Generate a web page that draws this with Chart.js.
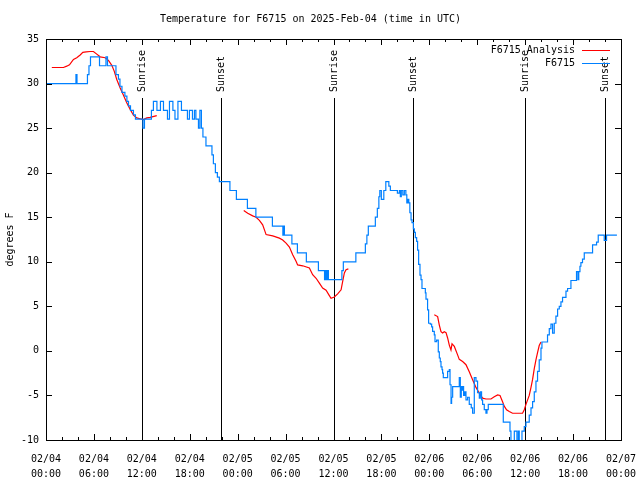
<!DOCTYPE html>
<html>
<head>
<meta charset="utf-8">
<title>F6715 temperature</title>
<script src="https://cdn.jsdelivr.net/npm/chart.js@4/dist/chart.umd.min.js"></script>
<style>
  html, body { margin: 0; padding: 0; background: #fff; }
  canvas { display: block; }
</style>
</head>
<body>
<canvas id="tempChart" width="640" height="480"></canvas>
<script>
// hours after 2025-02-04 00:00 UTC
const obsHours = [0, 3.75, 3.88, 5.19, 5.38, 5.57, 6.70, 7.51, 7.70, 8.76,
  9.07, 9.26, 9.51, 9.88, 10.13, 10.33, 10.58, 10.95, 11.20, 12.14,
  12.33, 13.20, 13.45, 13.89, 14.33, 14.71, 15.21, 15.46, 15.89, 16.15,
  16.52, 16.96, 17.71, 17.96, 18.34, 18.59, 18.77, 19.09, 19.27, 19.46,
  19.65, 20.03, 20.78, 20.96, 21.21, 21.46, 21.71, 23.03, 23.84, 25.22,
  26.28, 28.35, 29.66, 29.75, 29.85, 30.79, 31.48, 32.60, 34.11, 34.88,
  34.98, 35.11, 35.21, 35.36, 37.05, 37.23, 38.80, 39.99, 40.18, 40.36,
  41.24, 41.49, 41.68, 41.80, 41.99, 42.30, 42.55, 42.93, 43.12, 44.00,
  44.25, 44.37, 44.49, 44.68, 44.87, 45.06, 45.18, 45.28, 45.43, 45.56,
  45.71, 45.83, 46.00, 46.12, 46.25, 46.41, 46.53, 46.66, 46.83, 46.96,
  47.08, 47.50, 47.58, 47.78, 47.91, 48.12, 48.29, 48.41, 48.62, 48.71,
  48.91, 49.12, 49.25, 49.37, 49.46, 49.59, 49.66, 49.75, 50.29, 50.50,
  50.59, 50.72, 50.79, 50.92, 51.75, 51.88, 52.00, 52.09, 52.19, 52.29,
  52.44, 52.59, 52.79, 53.00, 53.25, 53.42, 53.63, 53.84, 54.04, 54.26,
  54.38, 54.54, 54.67, 54.88, 55.09, 55.22, 55.38, 57.26, 58.10, 58.22,
  58.64, 58.97, 59.14, 59.26, 59.60, 59.89, 60.10, 60.51, 60.73, 60.93,
  61.14, 61.35, 61.55, 61.76, 61.98, 62.10, 62.80, 63.02, 63.23, 63.43,
  63.64, 63.85, 64.06, 64.27, 64.48, 64.68, 65.11, 65.31, 65.73, 66.43,
  66.61, 66.71, 66.86, 66.98, 67.18, 67.40, 68.44, 68.94, 69.15, 69.90,
  70.19, 71.49];
const obsTemps = [30, 31, 30, 31, 32, 33, 32, 33, 32, 31,
  30.5, 29.7, 29, 28.6, 28, 27.5, 27, 26.5, 26, 25,
  26, 27, 28, 27, 28, 27, 26, 28, 27, 26,
  28, 27, 26, 27, 26, 27, 26, 25, 27, 25,
  24, 23, 22, 21, 20, 19.5, 19, 18, 17, 16,
  15, 14, 13, 14, 13, 12, 11, 10, 9, 8,
  9, 8, 9, 8, 9, 10, 11, 12, 13, 14,
  15, 16, 17.3, 18, 17, 18, 19, 18.5, 18, 17.7,
  18, 17.3, 18, 17.5, 18, 17.5, 16.6, 17, 16.6, 15.5,
  14.7, 14.4, 13.7, 13.3, 12.7, 12.3, 11.3, 9.7, 8.5, 8,
  7, 6.5, 5.8, 4.6, 3.1, 3, 2.7, 2.2, 1.8, 1.05,
  1.2, -0.1, -0.8, -1.2, -1.8, -2.1, -2.5, -3, -2.3, -2.1,
  -3.8, -5.9, -5.2, -4, -3, -5.2, -4, -4.4, -4, -5,
  -4.6, -5.5, -5.2, -6, -6.4, -7, -3, -3.4, -4.7, -5.3,
  -4.6, -5.5, -6, -6.6, -7, -6.6, -6, -8, -9, -10.5,
  -9, -10.5, -9, -10.5, -9, -8.5, -8, -7.2, -6.4, -5.7,
  -4.6, -3.4, -2.3, -1, 0.3, 1, 1.8, 2.5, 3, 2,
  3.1, 3.9, 4.7, 5, 5.5, 6, 6.7, 7, 7.9, 8.9,
  8, 8.9, 9.5, 9.9, 10.3, 11, 11.9, 12.2, 13, 12.4,
  13, 13];

// analysis, null marks a gap between runs
const anaHours = [0.73, 2.19, 2.60, 2.94, 3.44, 3.85, 4.28, 4.61, 5.03, 5.53,
  5.94, 6.36, 6.78, 7.41, 7.82, 8.24, 8.54, 8.86, 9.29, 9.70,
  10.11, 10.54, 10.95, 11.36, 11.79, 12.20, 12.62, 13.04, 13.87,
  19,
  24.76, 25.26, 25.88, 26.31, 26.72, 27.13, 27.56, 28.39, 29.22, 29.64,
  30.06, 30.48, 30.89, 31.31, 31.51, 32.14, 32.98, 33.39, 33.82, 34.23,
  34.64, 35.07, 35.48, 35.69, 36.11, 36.52, 36.95, 37.15, 37.36, 37.57, 37.86,
  43,
  48.62, 49.04, 49.25, 49.46, 49.66, 49.87, 50.09, 50.29, 50.50, 50.71,
  50.84, 51.13, 51.54, 51.75, 52.17, 52.59, 53.00, 53.42, 53.84, 54.26,
  54.67, 55.09, 55.72, 56.13, 56.55, 56.85, 57.17, 57.38, 57.67, 58.01,
  58.42, 59.67, 59.89, 60.10, 60.51, 60.73, 60.93, 61.14, 61.35, 61.55,
  61.76, 61.98];
const anaTemps = [31.8, 31.8, 31.95, 32.1, 32.7, 32.9, 33.2, 33.5, 33.55, 33.6,
  33.6, 33.3, 33.0, 32.9, 32.6, 32.05, 31.4, 30.45, 29.5, 28.7,
  27.85, 27.1, 26.45, 26.15, 26.05, 25.95, 26.15, 26.2, 26.4,
  null,
  15.75, 15.45, 15.15, 15.0, 14.65, 14.15, 13.05, 12.9, 12.65, 12.45,
  12.1, 11.65, 10.8, 10.05, 9.65, 9.55, 9.3, 8.55, 8.15, 7.6,
  7.05, 6.8, 6.2, 5.9, 6.05, 6.4, 6.85, 7.8, 8.75, 9.1, 9.2,
  null,
  4.05, 3.85, 2.9, 2.15, 2.0, 2.15, 2.05, 1.45, 0.65, 0.1,
  0.8, 0.5, -0.45, -0.95, -1.2, -1.55, -2.35, -3.25, -4.1, -4.75,
  -5.3, -5.4, -5.4, -5.15, -4.95, -5.0, -5.7, -6.2, -6.6, -6.8,
  -7.0, -7.0, -6.6, -6.0, -5.0, -4.1, -3.2, -2.0, -1.0, -0.2,
  0.6, 1.0];

const tickDays = ['02/04', '02/04', '02/04', '02/04', '02/05', '02/05', '02/05',
  '02/05', '02/06', '02/06', '02/06', '02/06', '02/07'];
const tickTimes = ['00:00', '06:00', '12:00', '18:00', '00:00', '06:00', '12:00',
  '18:00', '00:00', '06:00', '12:00', '18:00', '00:00'];

const sunriseHours = [12.0, 36.03, 59.95];
const sunsetHours = [21.9, 45.92, 70.0];

const FAMILY = '"DejaVu Sans Mono", "Liberation Mono", monospace';
const FONT = '10px ' + FAMILY;

// gnuplot-like frame: box, inward tics, sun markers and legend
const gnuplotFrame = {
    id: 'gnuplotFrame',
    beforeDatasetsDraw(chart) {
        const {ctx, chartArea: a, scales: {x}} = chart;
        ctx.save();
        ctx.strokeStyle = '#000';
        ctx.fillStyle = '#000';
        ctx.lineWidth = 1;
        ctx.font = FONT;
        const marks = sunriseHours.map(h => [h, 'Sunrise'])
            .concat(sunsetHours.map(h => [h, 'Sunset']));
        marks.forEach(([h, label]) => {
            const px = Math.round(x.getPixelForValue(h)) + 0.5;
            ctx.beginPath();
            ctx.moveTo(px, a.top + 59);
            ctx.lineTo(px, a.bottom);
            ctx.stroke();
            ctx.save();
            ctx.translate(px, a.top + 53);
            ctx.rotate(-Math.PI / 2);
            ctx.textAlign = 'left';
            ctx.textBaseline = 'middle';
            ctx.fillText(label, 0, 0);
            ctx.restore();
        });
        ctx.restore();
    },
    afterDraw(chart) {
        const {ctx, chartArea: a, scales: {x, y}} = chart;
        ctx.save();
        ctx.strokeStyle = '#000';
        ctx.lineWidth = 1;
        ctx.strokeRect(a.left + 0.5, a.top + 0.5, a.right - a.left, a.bottom - a.top);

        ctx.beginPath();
        for (let h = 0; h <= 72; h += 2) {
            const px = Math.round(x.getPixelForValue(h)) + 0.5;
            const len = h % 6 === 0 ? 6 : 3;
            ctx.moveTo(px, a.bottom);
            ctx.lineTo(px, a.bottom - len);
            ctx.moveTo(px, a.top);
            ctx.lineTo(px, a.top + len);
        }
        for (let v = -10; v <= 35; v += 5) {
            const py = Math.round(y.getPixelForValue(v)) + 0.5;
            ctx.moveTo(a.left, py);
            ctx.lineTo(a.left + 6, py);
            ctx.moveTo(a.right, py);
            ctx.lineTo(a.right - 6, py);
        }
        ctx.stroke();

        // key, text right-aligned with the sample line after it
        ctx.font = FONT;
        ctx.fillStyle = '#000';
        ctx.textAlign = 'right';
        ctx.textBaseline = 'middle';
        chart.data.datasets.slice().reverse().forEach((ds, i) => {
            const ty = a.top + 11.5 + i * 13;
            ctx.fillText(ds.label, a.right - 46, ty);
            ctx.strokeStyle = ds.borderColor;
            ctx.beginPath();
            ctx.moveTo(a.right - 39, Math.round(ty) - 0.5);
            ctx.lineTo(a.right - 11, Math.round(ty) - 0.5);
            ctx.stroke();
        });
        ctx.restore();
    }
};

const ctx = document.getElementById('tempChart').getContext('2d');
const tempChart = new Chart(ctx, {
    type: 'line',
    data: {
        datasets: [{
                label: 'F6715',
                data: obsHours.map((h, i) => ({x: h, y: obsTemps[i]})),
                borderColor: '#0080ff',
                borderWidth: 1.2,
                pointRadius: 0,
                stepped: true,
                order: 0
            }, {
                label: 'F6715 Analysis',
                data: anaHours.map((h, i) => ({x: h, y: anaTemps[i]})),
                borderColor: '#ff0000',
                borderWidth: 1.2,
                pointRadius: 0,
                spanGaps: false,
                order: 1
            }]
    },
    options: {
        responsive: false,
        animation: false,
        devicePixelRatio: 1,
        events: [],
        layout: {padding: {top: 0, right: 19, bottom: 0, left: 0}},
        plugins: {
            legend: {display: false},
            tooltip: {enabled: false},
            title: {
                display: true,
                text: 'Temperature for F6715 on 2025-Feb-04 (time in UTC)',
                color: '#000',
                font: {family: FAMILY, size: 10, weight: 'normal', lineHeight: 1.2},
                padding: {top: 13, bottom: 14}
            }
        },
        scales: {
            x: {
                type: 'linear',
                min: 0,
                max: 72,
                grid: {display: false, drawTicks: false},
                border: {display: false},
                ticks: {
                    stepSize: 6,
                    autoSkip: false,
                    maxRotation: 0,
                    padding: 12,
                    color: '#000',
                    font: {family: FAMILY, size: 10, lineHeight: 1.5},
                    callback: (value) => [tickDays[value / 6], tickTimes[value / 6]]
                },
                afterFit: (scale) => {
                    scale.height = 40;
                    scale.paddingLeft = 0;
                    scale.paddingRight = 0;
                }
            },
            y: {
                min: -10,
                max: 35,
                grid: {display: false, drawTicks: false},
                border: {display: false},
                ticks: {
                    stepSize: 5,
                    padding: 7,
                    color: '#000',
                    font: {family: FAMILY, size: 10}
                },
                title: {
                    display: true,
                    text: 'degrees F',
                    color: '#000',
                    font: {family: FAMILY, size: 10, lineHeight: 1.2},
                    padding: {top: 4, bottom: 0}
                },
                afterFit: (scale) => { scale.width = 46; }
            }
        }
    },
    plugins: [gnuplotFrame]
});
</script>
</body>
</html>
